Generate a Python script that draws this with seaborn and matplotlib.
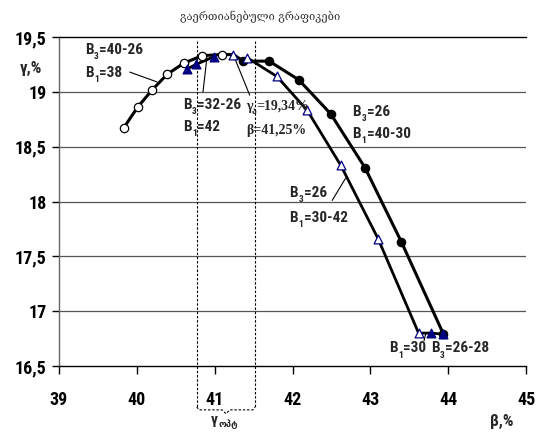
import matplotlib
matplotlib.use('Agg')
import matplotlib.pyplot as plt
from matplotlib import font_manager as fm
import seaborn as sns

# ---------------- data ----------------
title = "გაერთიანებული გრაფიკები"
# B3=40-26, B1=38 (open circles)
circ_x = [39.83, 40.01, 40.20, 40.39, 40.60, 40.84, 41.09]
circ_y = [18.67, 18.86, 19.02, 19.16, 19.26, 19.33, 19.34]
# B3=32-26, B1=42 (filled triangles)
ftri_x = [40.65, 40.76, 40.99]
ftri_y = [19.21, 19.25, 19.32]
# B3=26, B1=30-42 (open triangles)
otri_x = [41.24, 41.42, 41.80, 42.19, 42.62, 43.10, 43.62]
otri_y = [19.34, 19.31, 19.14, 18.83, 18.33, 17.66, 16.80]
# B3=26, B1=40-30 (filled circles)
fcirc_x = [41.37, 41.70, 42.08, 42.49, 42.93, 43.40, 43.94]
fcirc_y = [19.28, 19.28, 19.11, 18.80, 18.31, 17.63, 16.79]
# B1=30, B3=26-28 (filled triangles, bottom)
btri_x = [43.78, 43.94]
btri_y = [16.80, 16.79]
# optimum zone
opt_lo, opt_hi = 40.77, 41.52

xticks = [39, 40, 41, 42, 43, 44, 45]
xticklabels = ['39', '40', '41', '42', '43', '44', '45']
yticks = [16.5, 17, 17.5, 18, 18.5, 19, 19.5]
yticklabels = ['16,5', '17', '17,5', '18', '18,5', '19', '19,5']

# ---------------- fonts ----------------
sns.set_style('white')
names = {f.name for f in fm.fontManager.ttflist}
cond, stretch = None, 'normal'
for c in ['Liberation Sans Narrow', 'Arial Narrow', 'DejaVu Sans Condensed',
          'Roboto Condensed', 'Noto Sans Condensed', 'Open Sans Condensed']:
    if c in names:
        cond = c
        break
if cond is None:
    for fam in ['Noto Sans', 'DejaVu Sans', 'Roboto', 'Open Sans', 'Liberation Sans']:
        hits = [f for f in fm.fontManager.ttflist if f.name == fam and
                str(f.stretch) in ('condensed', 'semi-condensed', 'extra-condensed')]
        if hits:
            cond, stretch = fam, 'condensed'
            break
have_cond = cond is not None
if cond is None:
    cond = 'Liberation Sans'
NARROW = [cond, 'Liberation Sans', 'DejaVu Sans']
SERIF = ['Liberation Serif', 'DejaVu Serif', 'DejaVu Sans']
GEO = ['DejaVu Sans']
plt.rcParams['font.family'] = NARROW
plt.rcParams['font.weight'] = 'bold'
plt.rcParams['font.stretch'] = stretch
LS = 11 if have_cond else 10     # label size
SS = 10                          # serif label size
TS = 13 if have_cond else 12     # tick size

NAVY = '#000080'

fig = plt.figure(figsize=(5.37, 4.32), dpi=100)
ax = fig.add_axes([59/537, 1-366/432, (526-59)/537, (366-37)/432])

# ---------------- lines ----------------
ridge_x = circ_x + [otri_x[0]] + fcirc_x
ridge_y = circ_y + [otri_y[0]] + fcirc_y
sns.lineplot(x=ridge_x, y=ridge_y, sort=False, estimator=None, color='black',
             lw=2.2, ax=ax, zorder=3)
branch_x = otri_x[1:] + btri_x
branch_y = otri_y[1:] + btri_y
sns.lineplot(x=branch_x, y=branch_y, sort=False, estimator=None, color='black',
             lw=2.0, ax=ax, zorder=3)
sns.lineplot(x=ftri_x, y=ftri_y, sort=False, estimator=None, color='black',
             lw=2.0, ax=ax, zorder=3)

# ---------------- markers ----------------
sns.scatterplot(x=circ_x, y=circ_y, marker='o', s=36, color='white',
                edgecolor='black', linewidth=0.9, ax=ax, zorder=5)
sns.scatterplot(x=fcirc_x, y=fcirc_y, marker='o', s=36, color='black',
                edgecolor='black', linewidth=0.9, ax=ax, zorder=5)
sns.scatterplot(x=otri_x, y=otri_y, marker='^', s=40, color='white',
                edgecolor=NAVY, linewidth=0.9, ax=ax, zorder=6)
sns.scatterplot(x=ftri_x, y=ftri_y, marker='^', s=40, color=NAVY,
                edgecolor=NAVY, linewidth=0.9, ax=ax, zorder=6)
sns.scatterplot(x=btri_x, y=btri_y, marker='^', s=40, color=NAVY,
                edgecolor=NAVY, linewidth=0.9, ax=ax, zorder=6)

# ---------------- axes ----------------
ax.set_xlim(39, 45)
ax.set_ylim(16.5, 19.5)
ax.set_xticks(xticks)
ax.set_xticklabels(xticklabels, fontsize=TS, fontweight='bold')
ax.set_yticks(yticks)
ax.set_yticklabels(yticklabels, fontsize=TS, fontweight='bold')
ax.tick_params(axis='x', direction='out', length=6, width=1, pad=12, colors='black')
ax.tick_params(axis='y', direction='out', length=5, width=1, pad=4, colors='black')
ax.xaxis.set_ticks_position('bottom')
ax.yaxis.set_ticks_position('left')
ax.set_xlabel('')
ax.set_ylabel('')
for yv in yticks[1:-1]:
    ax.axhline(yv, color='#555555', lw=0.9, zorder=1)
ax.spines['right'].set_visible(False)
ax.spines['top'].set_color('black')
ax.spines['top'].set_linewidth(1.0)
ax.spines['left'].set_color('#666666')
ax.spines['left'].set_linewidth(1.0)
ax.spines['bottom'].set_color('black')
ax.spines['bottom'].set_linewidth(1.0)

# ---------------- optimum zone ----------------
dash = (0, (2.2, 1.6))
for xv in (opt_lo, opt_hi):
    ax.plot([xv, xv], [19.46, 16.127], color='black', lw=0.8, ls=dash,
            clip_on=False, zorder=2)
mid = (opt_lo + opt_hi) / 2
brace_x = [opt_lo, opt_lo + 0.03, mid - 0.05, mid, mid + 0.05, opt_hi - 0.03, opt_hi]
brace_y = [16.127, 16.10, 16.10, 16.065, 16.10, 16.10, 16.127]
ax.plot(brace_x, brace_y, color='black', lw=0.8, ls=dash, clip_on=False)


def subtext(x, y, base, sub, rest, size, family, sub_family=None, dy=-3.0,
            after=None, gap=3.5, sub_dx=0.4):
    kw = dict(fontsize=size, family=family, fontweight='bold', zorder=8)
    if after is None:
        t1 = ax.text(x, y, base, va='center', ha='left', **kw)
    else:
        t1 = ax.annotate(base, xy=(1, 0), xycoords=after, xytext=(gap, 0),
                         textcoords='offset points', va='bottom', ha='left', **kw)
    t2 = ax.annotate(sub, xy=(1, 0), xycoords=t1, xytext=(sub_dx, dy),
                     textcoords='offset points', fontsize=size * 0.62,
                     family=sub_family or family, fontweight='bold',
                     va='bottom', ha='left', zorder=8)
    last = t2
    if rest:
        last = ax.annotate(rest, xy=(1, 0), xycoords=(t2, t1), xytext=(0.4, 0),
                           textcoords='offset points', va='bottom', ha='left', **kw)
    return last


# labels
subtext(39.33, 19.38, 'B', '3', '=40-26', LS, NARROW)
subtext(39.33, 19.17, 'B', '1', '=38', LS, NARROW)
ax.plot([39.91, 40.26], [19.18, 19.09], color='black', lw=0.8, zorder=4)

subtext(40.59, 18.88, 'B', '3', '=32-26', LS, NARROW)
subtext(40.59, 18.68, 'B', '1', '=42', LS, NARROW)
ax.plot([40.85, 40.90], [19.00, 19.31], color='black', lw=0.8, zorder=4)

subtext(41.40, 18.87, 'γ', 'ა', '=19,34%', SS, SERIF, sub_family=GEO,
        dy=-2.5, sub_dx=-0.8)
ax.text(41.40, 18.65, 'β=41,25%', fontsize=SS, family=SERIF,
        fontweight='bold', va='center', ha='left', zorder=8)
ax.plot([41.45, 41.25], [18.97, 19.32], color='black', lw=0.8, zorder=4)

subtext(42.77, 18.82, 'B', '3', '=26', LS, NARROW)
subtext(42.77, 18.62, 'B', '1', '=40-30', LS, NARROW)

subtext(41.96, 18.08, 'B', '3', '=26', LS, NARROW)
subtext(41.96, 17.85, 'B', '1', '=30-42', LS, NARROW)
ax.plot([42.51, 42.68], [18.01, 18.21], color='black', lw=0.8, zorder=4)

first = subtext(43.24, 16.66, 'B', '1', '=30', LS, NARROW)
subtext(0, 0, 'B', '3', '=26-28', LS, NARROW, after=first, gap=3.0)
ax.plot([43.69, 43.71], [16.73, 16.79], color='black', lw=0.8, zorder=4)

subtext(40.95, 16.005, 'γ', 'ოპტ', '', LS, NARROW, sub_family=GEO, dy=-1.0)

# axis titles
fig.text(20/537, 1-68/432, 'γ,%', fontsize=LS + 1, fontweight='bold',
         family=NARROW, ha='left', va='center')
fig.text(490/537, 1-421/432, 'β,%', fontsize=LS + 1, fontweight='bold',
         family=NARROW, ha='left', va='center')

fig.text(260/537, 1-17/432, title, fontsize=8, color='#333333',
         family=['DejaVu Serif', 'DejaVu Sans'], fontweight='normal',
         ha='center', va='center')

fig.savefig('out.png', dpi=100)
